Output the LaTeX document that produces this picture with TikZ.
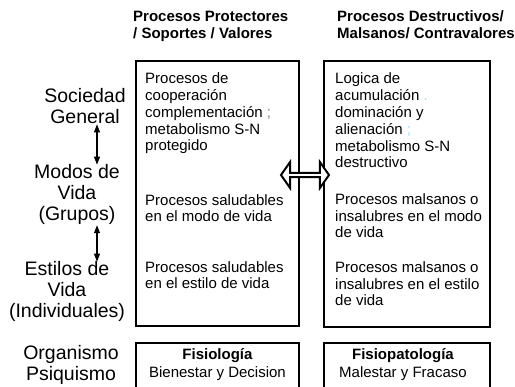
\documentclass[tikz,border=0pt]{standalone}
\usepackage{fontspec}
\setmainfont{Liberation Sans}
\usetikzlibrary{arrows.meta,shapes.arrows}

\begin{document}
\begin{tikzpicture}[x=1pt, y=-1pt,
    boxnode/.style={draw=black, line width=2.2pt, inner sep=0pt},
    headnode/.style={anchor=base west, align=left, inner sep=0pt, font=\fontsize{15}{17}\selectfont\bfseries},
    textnode/.style={anchor=base west, align=left, inner sep=0pt, font=\fontsize{15}{16.8}\selectfont},
    levelnode/.style={anchor=base, align=center, inner sep=0pt, font=\fontsize{19.5}{21}\selectfont},
    endnode/.style={anchor=base, align=center, inner sep=0pt, font=\fontsize{15}{18}\selectfont},
    levelarrow/.style={{Triangle[length=8pt,width=6pt]}-{Triangle[length=8pt,width=6pt]}, line width=1.2pt},
    ]
    \useasboundingbox (0,0) rectangle (515,387);

    % base anchor = baseline of the last line
    \node [headnode] (prothead) at (133,39) {Procesos Protectores\\/ Soportes / Valores};
    \node [headnode] (destrhead) at (337,39) {Procesos Destructivos/\\Malsanos/ Contravalores};

    \node [levelnode] (soc) at (85,124) {Sociedad\\General};
    \node [levelnode] (modos) at (77,221) {Modos de\\Vida\\(Grupos)};
    \node [levelnode] (estilos) at (67,318) {Estilos de\\Vida\\(Individuales)};
    \node [levelnode] (organ) at (71,381) {Organismo\\Psiquismo};
    \coordinate (ax) at (97,0);

    \node [boxnode, minimum width=163pt, minimum height=265pt] (protbox) at (217.5,193.5) {};
    \node [boxnode, minimum width=166pt, minimum height=266pt] (destrbox) at (407,194) {};
    \node [boxnode, minimum width=163pt, minimum height=57pt] (fisbox) at (217.5,371.5) {};
    \node [boxnode, minimum width=166pt, minimum height=57pt] (patbox) at (407,371.5) {};

    \node [textnode] (protA) at (145,151) {Procesos de\\cooperación\\complementación {\color{gray};}\\metabolismo S-N\\protegido};
    \node [textnode] (protB) at (145,222) {Procesos saludables\\en el modo de vida};
    \node [textnode] (protC) at (145,289) {Procesos saludables\\en el estilo de vida};

    \node [textnode] (destrA) at (335,168) {Logica de\\acumulación {\color{cyan!40}.}\\dominación y\\alienación {\color{cyan!40};}\\metabolismo S-N\\destructivo};
    \node [textnode] (destrB) at (335,238) {Procesos malsanos o\\insalubres en el modo\\de vida};
    \node [textnode] (destrC) at (335,306) {Procesos malsanos o\\insalubres en el estilo\\de vida};

    \node [endnode] (fis) at (217.5,378) {\textbf{Fisiología}\\Bienestar y Decision};
    \node [endnode] (pat) at (403,378) {\textbf{Fisiopatología}\\Malestar y Fracaso};

    \node [double arrow, draw=black, fill=white, line width=2pt, inner sep=0pt,
        minimum height=48pt, minimum width=26pt, double arrow head extend=5pt,
        double arrow tip angle=110] (link) at (305,175) {};

    \draw [levelarrow] (soc.south -| ax) -- (modos.north -| ax);
    \draw [levelarrow] (modos.south -| ax) -- (estilos.north -| ax);
\end{tikzpicture}
\end{document}
